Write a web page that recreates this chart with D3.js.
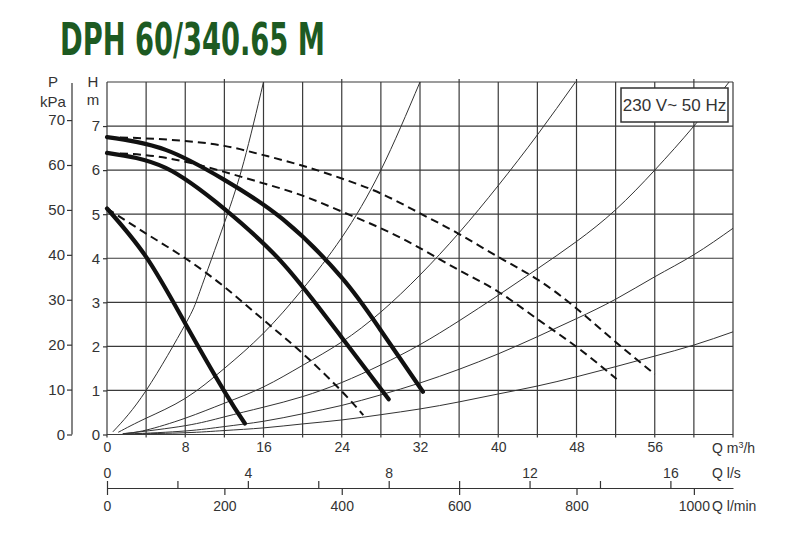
<!DOCTYPE html>
<html>
<head>
<meta charset="utf-8">
<script src="https://cdn.jsdelivr.net/npm/d3@7"></script>
<style>
  html, body { margin: 0; padding: 0; background: #fff; }
  svg { display: block; }
  text { font-family: "Liberation Sans", Arial, Helvetica, sans-serif; fill: #333; }
</style>
</head>
<body>
<svg id="chart" width="800" height="533"></svg>
<script>
// ---------- DATA ----------
const titleText = "DPH 60/340.65 M";
const legendText = "230 V~ 50 Hz";

const qTickLabels = [0, 8, 16, 24, 32, 40, 48, 56];          // Q m3/h labels
const qGrid = [0, 4, 8, 12, 16, 20, 24, 28, 32, 36, 40, 44, 48, 52, 56, 60, 64];
const hTicks = [0, 1, 2, 3, 4, 5, 6, 7];                      // H m
const hGrid = [0, 1, 2, 3, 4, 5, 6, 7, 8];
const pTicks = [0, 10, 20, 30, 40, 50, 60, 70];               // P kPa
const lsTicks = [0, 2, 4, 6, 8, 10, 12, 14, 16];              // Q l/s
const lsLabels = [0, 4, 8, 12, 16];
const lminTicks = [0, 200, 400, 600, 800, 1000];              // Q l/min
const topTicks = [12, 24, 36, 48, 60];

// pump curves (Q m3/h, H m)
const pumpLow  = [[0,5.13],[4,4.03],[8,2.52],[12,0.98],[14.1,0.25]];
const pumpMid  = [[0,6.39],[6,6.05],[12,5.12],[18,3.88],[24,2.2],[28.8,0.8]];
const pumpHigh = [[0,6.75],[6,6.46],[12,5.78],[18,4.88],[24,3.56],[28,2.36],[32.3,0.97]];

const dashLow  = [[0,5.13],[4,4.56],[8,4.0],[12,3.35],[16,2.6],[20,1.84],[24,0.98],[26.2,0.44]];
const dashMid  = [[0,6.39],[4,6.34],[8,6.19],[12,5.96],[16,5.7],[20,5.42],[24,5.06],[28,4.68],[32,4.23],[36,3.73],[40,3.24],[44,2.62],[48,1.99],[52.1,1.26]];
const dashHigh = [[0,6.75],[4,6.72],[8,6.66],[12,6.55],[16,6.34],[20,6.1],[24,5.81],[28,5.47],[32,5.02],[36,4.55],[40,4.03],[44,3.52],[48,2.86],[52,2.1],[56,1.37]];

// system curves
const sys1 = [[0.6,0.06],[4,1.0],[8,2.5],[9.5,3.25],[12,4.8],[14,6.2],[16,8]];
const sys2 = [[1.15,0.05],[4,0.37],[8,0.82],[12,1.5],[16,2.3],[20,3.3],[24,4.47],[28,6.0],[32,8]];
const sys3 = [[1.6,0.02],[4,0.1],[8,0.37],[12,0.71],[16,1.08],[20,1.57],[24,2.1],[28,2.78],[32,3.62],[36,4.58],[40,5.65],[44,6.8],[47.9,8]];
const sys4 = [[1.8,0.02],[8,0.2],[12,0.4],[16,0.62],[20,0.86],[24,1.18],[28,1.58],[32,2.04],[36,2.58],[40,3.16],[44,3.76],[48,4.38],[52,5.1],[56,6.0],[60,7.0],[63.6,8]];
const sys5 = [[2,0.01],[8,0.08],[12,0.18],[16,0.3],[20,0.47],[24,0.66],[28,0.9],[32,1.17],[36,1.48],[40,1.83],[44,2.22],[48,2.63],[52,3.07],[56,3.58],[60,4.08],[64,4.68]];
const sys6 = [[2,0.01],[8,0.04],[12,0.09],[16,0.15],[20,0.24],[24,0.33],[28,0.45],[32,0.58],[36,0.74],[40,0.92],[44,1.1],[48,1.31],[52,1.54],[56,1.78],[60,2.03],[64,2.33]];

// ---------- CHART ----------
const svg = d3.select("#chart");
svg.append("rect").attr("width", 800).attr("height", 533).attr("fill", "#fff");

const x = d3.scaleLinear().domain([0, 64]).range([107, 733]);
const y = d3.scaleLinear().domain([0, 8]).range([434.5, 82]);
const p = d3.scaleLinear().domain([0, 8 * 9.81]).range([434.5, 82]);
const ls = d3.scaleLinear().domain([0, 64 / 3.6]).range([107, 733]);
const lmin = d3.scaleLinear().domain([0, 64000 / 60]).range([107, 733]);
const fmt = d3.format("d");

// title
svg.append("text")
  .attr("x", 60).attr("y", 55)
  .attr("textLength", 265).attr("lengthAdjust", "spacingAndGlyphs")
  .style("font-family", "'Liberation Sans Narrow', 'DejaVu Sans Condensed', sans-serif")
  .style("font-weight", "bold").style("font-size", "45px")
  .style("fill", "#1d5a22")
  .text(titleText);

// grid
const grid = svg.append("g").attr("stroke", "#3a3a3a").attr("stroke-width", 1.2);
grid.selectAll("line.v").data(qGrid).join("line")
  .attr("x1", d => x(d)).attr("x2", d => x(d))
  .attr("y1", y(0) + 3).attr("y2", y(8));
grid.selectAll("line.h").data(hGrid).join("line")
  .attr("x1", x(0)).attr("x2", x(64))
  .attr("y1", d => y(d)).attr("y2", d => y(d));
grid.selectAll("line.t").data(topTicks).join("line")
  .attr("x1", d => x(d)).attr("x2", d => x(d))
  .attr("y1", y(8)).attr("y2", y(8) - 3);

function styleAxis(g) {
  g.selectAll("line").attr("stroke", "#333").attr("stroke-width", 1.2);
  g.selectAll("path.domain").attr("stroke", "#333").attr("stroke-width", 1.2);
  g.selectAll("text").style("font-size", "14px").attr("fill", "#333")
    .style("font-family", "'Liberation Sans', Arial, sans-serif");
}

// Q m3/h axis labels
svg.append("g").attr("transform", `translate(0,${y(0)})`)
  .call(d3.axisBottom(x).tickValues(qTickLabels).tickSize(0).tickPadding(8).tickFormat(fmt))
  .call(g => g.select(".domain").remove())
  .call(styleAxis);

// H axis
svg.append("g").attr("transform", `translate(${x(0)},0)`)
  .call(d3.axisLeft(y).tickValues(hTicks).tickSize(4).tickPadding(3).tickFormat(fmt))
  .call(g => g.select(".domain").remove())
  .call(styleAxis)
  .call(g => g.selectAll("text").style("font-size", "15px"));

// P axis
svg.append("g").attr("transform", "translate(72,0)")
  .call(d3.axisLeft(p).tickValues(pTicks).tickSize(5).tickPadding(2).tickFormat(fmt))
  .call(g => g.select(".domain").remove())
  .call(g => g.append("line").attr("x1", 0).attr("x2", 0).attr("y1", p(0)).attr("y2", 83))
  .call(styleAxis)
  .call(g => g.selectAll("text").style("font-size", "15px"));

// l/s axis (ticks up)
svg.append("g").attr("transform", "translate(0,488)")
  .call(d3.axisTop(ls).tickValues(lsTicks).tickSize(7).tickSizeOuter(0).tickPadding(3)
    .tickFormat(d => lsLabels.includes(d) ? fmt(d) : ""))
  .call(styleAxis);

// l/min axis (ticks down)
svg.append("g").attr("transform", "translate(0,488)")
  .call(d3.axisBottom(lmin).tickValues(lminTicks).tickSize(7).tickSizeOuter(0).tickPadding(6).tickFormat(fmt))
  .call(g => g.select(".domain").remove())
  .call(styleAxis);

// axis titles
const tStyle = sel => sel.style("font-size", "14px").attr("fill", "#333");
const qm = svg.append("text").attr("x", 712).attr("y", 453).call(tStyle);
qm.append("tspan").text("Q m");
qm.append("tspan").attr("dy", -5).style("font-size", "9px").text("3");
qm.append("tspan").attr("dy", 5).text("/h");
svg.append("text").attr("x", 712).attr("y", 478).call(tStyle).text("Q l/s");
svg.append("text").attr("x", 712).attr("y", 511).call(tStyle).text("Q l/min");

svg.append("text").attr("x", 53).attr("y", 87).attr("text-anchor", "middle").style("font-size", "15px").text("P");
svg.append("text").attr("x", 53).attr("y", 107).attr("text-anchor", "middle").style("font-size", "15px").text("kPa");
svg.append("text").attr("x", 93).attr("y", 87).attr("text-anchor", "middle").style("font-size", "15px").text("H");
svg.append("text").attr("x", 93).attr("y", 105).attr("text-anchor", "middle").style("font-size", "15px").text("m");

// curves
const line = d3.line().x(d => x(d[0])).y(d => y(d[1])).curve(d3.curveNatural);

const sysCurves = [sys1, sys2, sys3, sys4, sys5, sys6];
svg.append("g").selectAll("path").data(sysCurves).join("path")
  .attr("d", line).attr("fill", "none").attr("stroke", "#333").attr("stroke-width", 1);

const dashCurves = [dashLow, dashMid, dashHigh];
svg.append("g").selectAll("path").data(dashCurves).join("path")
  .attr("d", line).attr("fill", "none").attr("stroke", "#111")
  .attr("stroke-width", 2).attr("stroke-dasharray", "8,5");

const pumpCurves = [pumpLow, pumpMid, pumpHigh];
svg.append("g").selectAll("path").data(pumpCurves).join("path")
  .attr("d", line).attr("fill", "none").attr("stroke", "#111")
  .attr("stroke-width", 4.2).attr("stroke-linecap", "round");

// legend box
svg.append("rect").attr("x", 621).attr("y", 88).attr("width", 107).attr("height", 34)
  .attr("fill", "#fff").attr("stroke", "#333").attr("stroke-width", 1.5);
svg.append("text").attr("x", 674.5).attr("y", 111).attr("text-anchor", "middle")
  .style("font-size", "17px").text(legendText);
</script>
</body>
</html>
